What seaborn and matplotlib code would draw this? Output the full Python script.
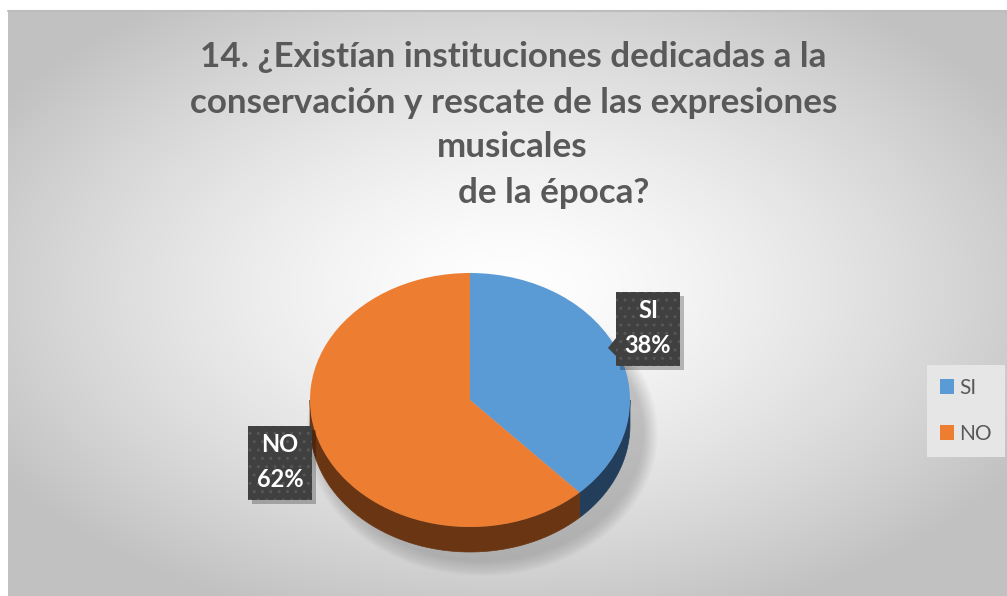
import numpy as np
import matplotlib
matplotlib.use("Agg")
import matplotlib.pyplot as plt
import seaborn as sns
from matplotlib.patches import Polygon, Ellipse
from matplotlib.transforms import Affine2D

categories = ["SI", "NO"]
values = [38, 62]
colors = ["#5B9BD5", "#ED7D31"]
side_colors = ["#223E5B", "#6A3512"]
title_lines = ["14. ¿Existían instituciones dedicadas a la",
               "conservación y rescate de las expresiones",
               "musicales",
               "de la época?"]

sns.set_theme(style="white")
plt.rcParams["font.family"] = ["Lato", "DejaVu Sans"]

W, H = 1007, 596
fig = plt.figure(figsize=(W / 100, H / 100), dpi=100)
fig.patch.set_facecolor("white")

# chart-area background: radial grey gradient
bg = fig.add_axes([8 / W, 0, (W - 8) / W, (H - 11) / H])
bg.set_axis_off()
gx, gy = np.meshgrid(np.linspace(-1, 1, 400), np.linspace(-1, 1, 240))
r = np.sqrt((gx * 0.95) ** 2 + ((gy + 0.05) * 0.95) ** 2) / np.sqrt(2)
shade = 1.0 - 0.24 * np.clip(r * 1.25, 0, 1) ** 1.4
bg.imshow(np.dstack([shade] * 3), aspect="auto", extent=[0, 1, 0, 1],
          interpolation="bicubic")
bg.plot([0, 1], [1, 1], color="#bdbdbd", lw=1.5, transform=bg.transAxes, clip_on=False)

ax = fig.add_axes([0, 0, 1, 1])
ax.set_axis_off()
ax.patch.set_alpha(0)

cx, cy = 470, H - 400
rx, ry = 160, 127
depth = 25
k = ry / rx
squash = Affine2D().translate(-cx, -cy).scale(1, k).translate(cx, cy) + ax.transData

# soft drop shadow under the disc
for i in range(16):
    grow = 16 - i
    ax.add_patch(Ellipse((cx + 12, cy - depth - 8), 2 * rx + grow * 2, 2 * ry + grow * 2,
                         facecolor="#6e6e6e", edgecolor="none", alpha=0.022, zorder=1))

# wedge angles (clockwise from 12 o'clock)
fracs = np.array(values) / np.sum(values)
bounds = 90 - 360 * np.concatenate([[0], np.cumsum(fracs)])

# visible side walls of the disc (front half: 180..360 degrees)
for i in range(len(values)):
    lo, hi = sorted([bounds[i + 1], bounds[i]])
    segs = []
    for shift in (-360, 0, 360):
        s0, s1 = max(lo + shift, 180), min(hi + shift, 360)
        if s1 > s0:
            segs.append((s0, s1))
    for s0, s1 in segs:
        t = np.radians(np.linspace(s0, s1, 80))
        top = np.column_stack([cx + rx * np.cos(t), cy + ry * np.sin(t)])
        bot = top.copy()
        bot[:, 1] -= depth
        ax.add_patch(Polygon(np.vstack([top, bot[::-1]]), closed=True,
                             facecolor=side_colors[i], edgecolor=side_colors[i],
                             lw=0.5, zorder=2))

wedges, _ = ax.pie(values, colors=colors, startangle=90, counterclock=False,
                   center=(cx, cy), radius=rx, frame=True,
                   wedgeprops=dict(linewidth=0, zorder=3))
for w in wedges:
    w.set_transform(squash)
    w.set_zorder(3)
ax.set_xlim(0, W)
ax.set_ylim(0, H)
ax.set_axis_off()
ax.set_aspect("auto")

# data labels (dark callout boxes)
label_pos = [(648, H - 329), (280, H - 463)]
for i, (lx, ly) in enumerate(label_pos):
    txt = f"{categories[i]}\n{values[i]}%"
    ax.add_patch(plt.Rectangle((lx - 32 + 4, ly - 37 - 4), 64, 74,
                               facecolor="#000000", alpha=0.25, edgecolor="none", zorder=4))
    ax.add_patch(plt.Rectangle((lx - 32, ly - 37), 64, 74, facecolor="#404040",
                               edgecolor="#575757", hatch="..", lw=0, zorder=5))
    ax.text(lx, ly + 1, txt, ha="center", va="center", color="white", fontsize=17,
            fontweight="bold", linespacing=1.65, zorder=6)
# pointer of the SI callout
ax.add_patch(Polygon([(616, H - 338), (608, H - 348), (616, H - 356)], closed=True,
                     facecolor="#404040", edgecolor="none", zorder=5))

# legend
leg = ax.legend(wedges, categories, loc="center",
                bbox_to_anchor=(966 / W, (H - 411) / H), frameon=True,
                fontsize=15, handlelength=0.7, handleheight=0.7,
                handletextpad=0.25, labelspacing=1.25, borderpad=0.6,
                labelcolor="#595959")
leg.get_frame().set_facecolor("#e6e6e6")
leg.get_frame().set_edgecolor("none")
leg.get_frame().set_alpha(1)
leg.get_frame().set_boxstyle("square", pad=0)

# title, fitted to width
renderer = fig.canvas.get_renderer()
probe = fig.text(0, 0, title_lines[0], fontsize=28, fontweight="bold")
wpx = probe.get_window_extent(renderer).width
probe.remove()
fs = 28 * 626 / wpx
centers = [(513, 57), (514, 103), (512, 147), (554, 193)]
for line, (tx, ty) in zip(title_lines, centers):
    fig.text(tx / W, 1 - ty / H, line, ha="center", va="center", fontsize=fs,
             fontweight="bold", color="#595959")

fig.savefig("out.png", dpi=100)
